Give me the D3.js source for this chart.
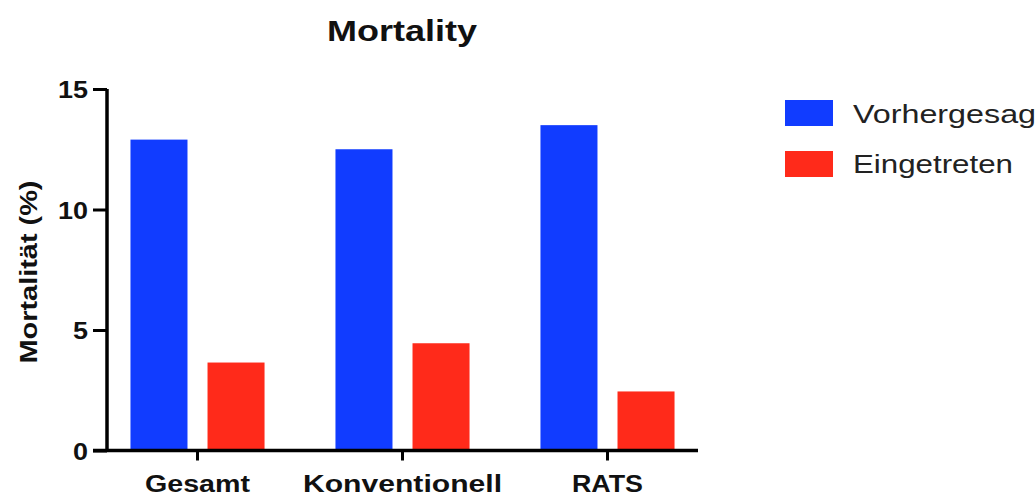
<!DOCTYPE html>
<html>
<head>
<meta charset="utf-8">
<script src="https://cdn.jsdelivr.net/npm/d3@7"></script>
<style>
  html, body { margin: 0; padding: 0; background: #fff; overflow: hidden; }
  svg { display: block; font-family: "Liberation Sans", Arial, Helvetica, sans-serif; }
</style>
</head>
<body>
<svg id="chart" width="1036" height="495"></svg>
<script>
const title = "Mortality";
const yLabel = "Mortalität (%)";
const categories = ["Gesamt", "Konventionell", "RATS"];
const seriesNames = ["Vorhergesagt", "Eingetreten"];
const predicted = [12.9, 12.5, 13.5];
const observed = [3.65, 4.45, 2.45];
const yTicks = [0, 5, 10, 15];
const colors = ["#113cff", "#ff2a1a"];

const svg = d3.select("#chart");
const yMin = 450.5, yMax = 89;
const axisLeft = 107, axisRight = 698;

const y = d3.scaleLinear().domain([0, 15]).range([yMin, yMax]);
const x0 = d3.scaleBand().domain(categories).range([axisLeft, axisRight])
  .paddingInner(0.346).paddingOuter(0.1145);
const x1 = d3.scaleBand().domain(seriesNames).range([0, x0.bandwidth()]).paddingInner(0.26);

const rows = categories.map((c, i) => ({ cat: c, vals: [predicted[i], observed[i]] }));

// Bars
const g = svg.append("g");
g.selectAll("g.grp").data(rows).join("g")
  .attr("class", "grp")
  .attr("transform", d => `translate(${x0(d.cat)},0)`)
  .selectAll("rect").data(d => d.vals.map((v, j) => ({ s: seriesNames[j], v, j })))
  .join("rect")
  .attr("x", d => x1(d.s))
  .attr("width", x1.bandwidth())
  .attr("y", d => y(d.v))
  .attr("height", d => y(0) - y(d.v))
  .attr("fill", d => colors[d.j]);

function fit(sel, w) { sel.attr("textLength", w).attr("lengthAdjust", "spacingAndGlyphs"); }

// Y axis
const yAxis = d3.axisLeft(y).tickValues(yTicks).tickSize(14).tickPadding(5).tickFormat(d3.format("d"));
const ya = svg.append("g").attr("transform", `translate(${axisLeft},0)`).call(yAxis);
ya.select(".domain").attr("stroke", "#000").attr("stroke-width", 3.5).attr("d", `M0,${yMin}V${yMax}`);
ya.selectAll(".tick line").attr("stroke", "#000").attr("stroke-width", 3);
ya.selectAll(".tick text")
  .attr("font-size", 24).attr("font-weight", "bold").attr("fill", "#111")
  .attr("font-family", "Liberation Sans, Arial, sans-serif")
  .attr("x", -19).attr("dy", "0.36em")
  .each(function (d) { fit(d3.select(this), String(d).length * 15); });

// X axis
const xAxis = d3.axisBottom(x0).tickSize(10).tickPadding(12);
const xa = svg.append("g").attr("transform", `translate(0,${yMin})`).call(xAxis);
xa.select(".domain").attr("stroke", "#000").attr("stroke-width", 3.5).attr("d", `M${axisLeft - 14},0H${axisRight}`);
xa.selectAll(".tick line").attr("stroke", "#000").attr("stroke-width", 3);
const catWidths = { "Gesamt": 105, "Konventionell": 199, "RATS": 71 };
xa.selectAll(".tick text")
  .attr("font-size", 23).attr("font-weight", "bold").attr("fill", "#111")
  .attr("font-family", "Liberation Sans, Arial, sans-serif")
  .attr("y", 0).attr("dy", 0)
  .attr("transform", "translate(0,41)")
  .each(function (d) { fit(d3.select(this), catWidths[d]); });

// Title
svg.append("text")
  .attr("x", 402).attr("y", 41)
  .attr("text-anchor", "middle")
  .attr("font-size", 30).attr("font-weight", "bold").attr("fill", "#111")
  .text(title).call(fit, 150);

// Y label
svg.append("text")
  .attr("transform", "translate(37,272) rotate(-90)")
  .attr("text-anchor", "middle")
  .attr("font-size", 24).attr("font-weight", "bold").attr("fill", "#111")
  .text(yLabel).call(fit, 183);

// Legend
const legend = svg.append("g");
const legendY = [100, 151];
const baseY = [123, 173];
const legendWidths = [192, 160];
const leg = legend.selectAll("g").data(seriesNames).join("g");
leg.append("rect")
  .attr("x", 785).attr("y", (d, i) => legendY[i])
  .attr("width", 48).attr("height", 26)
  .attr("fill", (d, i) => colors[i]);
leg.append("text")
  .attr("x", 853).attr("y", (d, i) => baseY[i])
  .attr("font-size", 25).attr("fill", "#222")
  .text(d => d)
  .each(function (d, i) { fit(d3.select(this), legendWidths[i]); });
</script>
</body>
</html>
